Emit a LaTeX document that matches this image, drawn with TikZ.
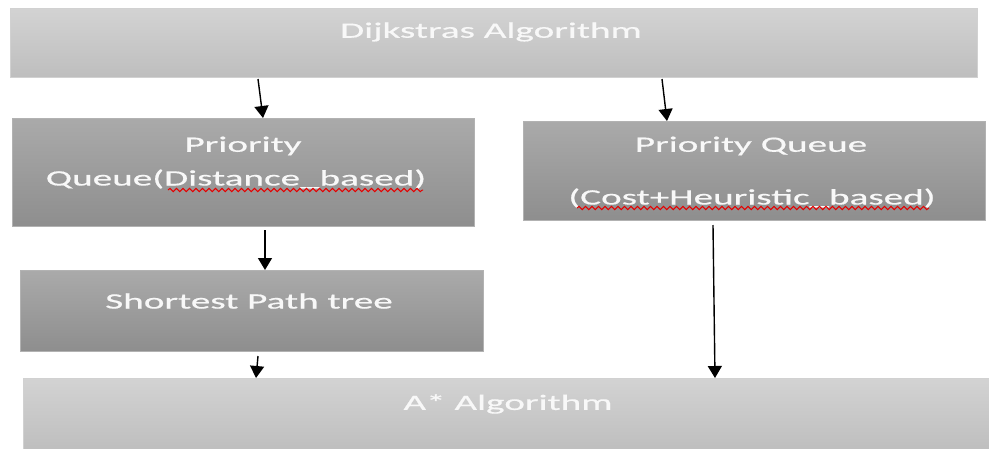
\documentclass[tikz,border=0pt]{standalone}
\usepackage{fontspec}
\setmainfont{Carlito}
\newfontfamily\widefont[FakeStretch=1.78,FakeBold=0.6]{Carlito}
\usetikzlibrary{arrows.meta,decorations.pathmorphing}
\definecolor{lighttop}{HTML}{D3D3D3}
\definecolor{lightbot}{HTML}{BEBEBE}
\definecolor{darktop}{HTML}{AAAAAA}
\definecolor{darkbot}{HTML}{8E8E8E}
\definecolor{txt}{HTML}{F8F8F8}
\tikzset{
  lightbox/.style={draw=black!18, line width=0.8pt, top color=lighttop, bottom color=lightbot, inner sep=0pt, outer sep=0pt},
  darkbox/.style={draw=black!30, line width=0.8pt, top color=darktop, bottom color=darkbot, inner sep=0pt, outer sep=0pt},
  lbl/.style={text=txt, font=\widefont\fontsize{22}{26}\selectfont, inner sep=0pt},
  arr/.style={line width=1.4pt, -{Triangle[width=14pt,length=12pt]}},
  squig/.style={red!90!black, line width=1pt, decorate, decoration={snake, amplitude=1.6pt, segment length=6.5pt}}
}
\begin{document}
\begin{tikzpicture}[x=1pt,y=-1pt]
\useasboundingbox (0,0) rectangle (989,448);
% boxes
\node[lightbox, anchor=north west, minimum width=967pt, minimum height=69pt] (dij) at (10,8) {};
\node[darkbox, anchor=north west, minimum width=462pt, minimum height=108pt] (pq1) at (12,118) {};
\node[darkbox, anchor=north west, minimum width=462pt, minimum height=99pt] (pq2) at (523,121) {};
\node[darkbox, anchor=north west, minimum width=463pt, minimum height=81pt] (spt) at (20,270) {};
\node[lightbox, anchor=north west, minimum width=970pt, minimum height=72pt] (astar) at (23,378) {};
% texts
\node[lbl] (tdij) at (491,32) {Dijkstras Algorithm};
\node[lbl] (tpq1a) at (243,146) {Priority};
\node[lbl] (tpq1b) at (236,179) {Queue(Distance\_based)};
\node[lbl] (tpq2a) at (751,146) {Priority Queue};
\node[lbl] (tpq2b) at (752,198) {(Cost+Heuristic\_based)};
\node[lbl] (tspt) at (249,301) {Shortest Path tree};
\node[lbl] (tastar) at (508,404) {A* Algorithm};
% spell-check squiggles
\draw[squig] (168,190) -- (423,190);
\draw[squig] (577,208) -- (929,208);
% arrows
\draw[arr] ([xshift=248pt,yshift=-2pt]dij.south west) -- ([xshift=251pt]pq1.north west);
\draw[arr] ([xshift=652pt,yshift=-2pt]dij.south west) -- ([xshift=144pt]pq2.north west);
\draw[arr] ([xshift=253pt,yshift=-4pt]pq1.south west) -- ([xshift=245pt]spt.north west);
\draw[arr] ([xshift=238pt,yshift=-5pt]spt.south west) -- ([xshift=233pt]astar.north west);
\draw[arr] ([xshift=190pt,yshift=-5pt]pq2.south west) -- ([xshift=692pt]astar.north west);
\end{tikzpicture}
\end{document}
